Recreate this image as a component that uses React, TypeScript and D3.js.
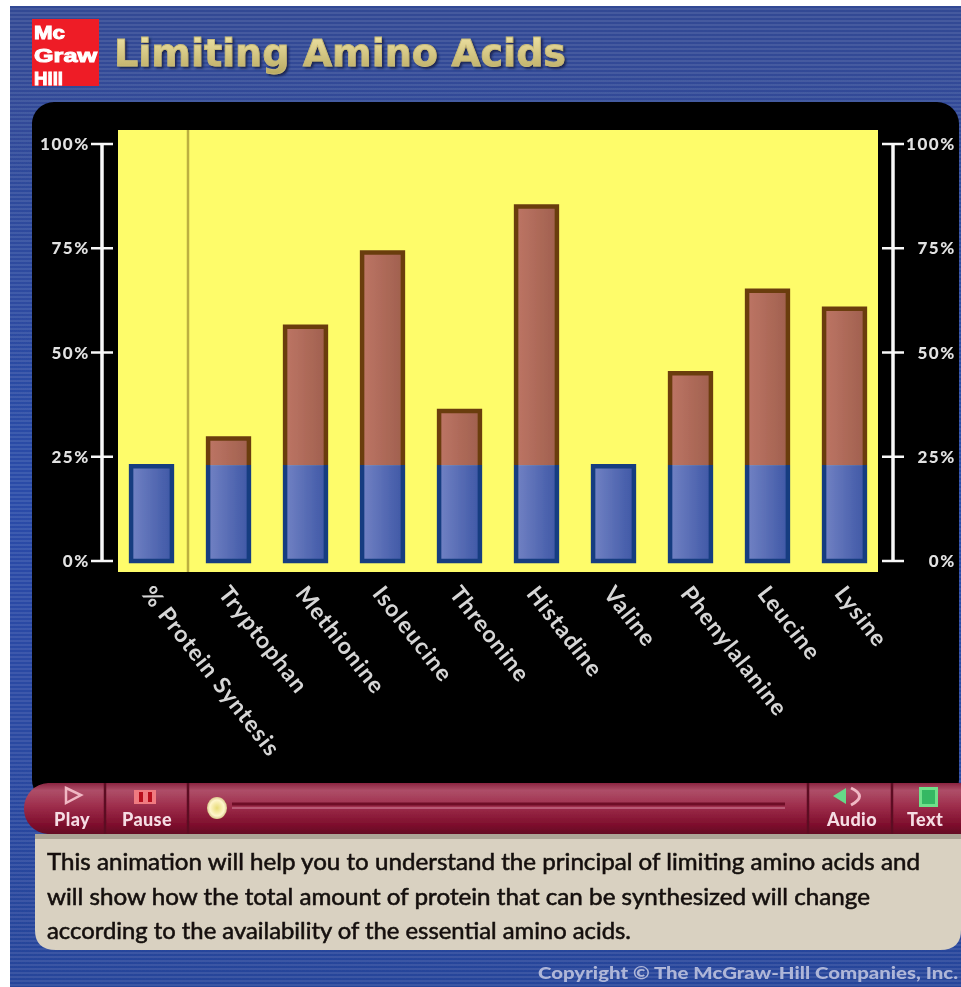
import React from "react";
import * as d3 from "d3";

const categories = ["% Protein Syntesis", "Tryptophan", "Methionine", "Isoleucine", "Threonine", "Histadine", "Valine", "Phenylalanine", "Leucine", "Lysine"];
const totalValues = [22.7, 29.4, 56.2, 74, 36, 85, 22.7, 45, 64.8, 60.5];
const baseValues = [22.7, 23, 23, 23, 23, 23, 22.7, 23, 23, 23];
const tickValues = [0, 25, 50, 75, 100];
const bodyLines = [
  "This animation will help you to understand the principal of limiting amino acids and",
  "will show how the total amount of protein that can be synthesized will change",
  "according to the availability of the essential amino acids.",
];

const W = 961, H = 987;
const y = d3.scaleLinear().domain([0, 100]).range([561, 144]);
const x = d3.scaleBand<string>().domain(categories).range([108, 888]).paddingInner(0.47).paddingOuter(0.3);
const ui = "Lato, 'Open Sans', sans-serif";

function Ticks({ axisX, side }: { axisX: number; side: "left" | "right" }) {
  return (
    <g>
      <line x1={axisX} x2={axisX} y1={y(100)} y2={y(0)} stroke="#f8f8f8" strokeWidth={3.5} />
      {tickValues.map((t) => (
        <g key={t}>
          <line x1={axisX - 11} x2={axisX + 11} y1={y(t)} y2={y(t)} stroke="#f8f8f8" strokeWidth={2.5} />
          <text
            x={side === "left" ? 90 : 956}
            y={y(t) + 6}
            textAnchor="end"
            fill="#e2e2e2"
            fontFamily={ui}
            fontWeight={900}
            fontSize={17}
            letterSpacing={1.6}
          >{t}%</text>
        </g>
      ))}
    </g>
  );
}

function Bar({ c, total, base }: { c: string; total: number; base: number }) {
  const bw = x.bandwidth();
  const l = x(c)!;
  const r = l + bw;
  const stacked = total > base;
  const blueEdge = d3.path();
  blueEdge.moveTo(l, y(base));
  blueEdge.lineTo(l, y(0));
  blueEdge.lineTo(r, y(0));
  blueEdge.lineTo(r, y(base));
  if (!stacked) blueEdge.closePath();
  const brownEdge = d3.path();
  brownEdge.moveTo(l, y(base));
  brownEdge.lineTo(l, y(total));
  brownEdge.lineTo(r, y(total));
  brownEdge.lineTo(r, y(base));
  return (
    <g>
      {stacked && (
        <g>
          <rect x={l} y={y(total)} width={bw} height={y(base) - y(total)} fill="url(#brownBar)" />
          <path d={brownEdge.toString()} fill="none" stroke="#6a3c10" strokeWidth={4.5} />
        </g>
      )}
      <rect x={l} y={y(base)} width={bw} height={y(0) - y(base)} fill="url(#blueBar)" />
      <path d={blueEdge.toString()} fill="none" stroke="#163c80" strokeWidth={4.5} />
    </g>
  );
}

export default function App() {
  const bw = x.bandwidth();
  return (
    <div style={{ position: "absolute", left: 0, top: 0, width: W, height: H, background: "#fff" }}>
      <svg width={W} height={H} style={{ display: "block" }}>
        <defs>
          <linearGradient id="frame" x1="0" y1="0" x2="0" y2="1">
            <stop offset="0" stopColor="#324a94" />
            <stop offset="0.5" stopColor="#2a4ba8" />
            <stop offset="1" stopColor="#28459a" />
          </linearGradient>
          <pattern id="stripes" width="4" height="4" patternUnits="userSpaceOnUse">
            <rect width="4" height="2" fill="#ffffff" opacity="0.09" />
          </pattern>
          <linearGradient id="blueBar" x1="0" x2="1" y1="0" y2="0">
            <stop offset="0" stopColor="#7282c4" />
            <stop offset="1" stopColor="#3f58a6" />
          </linearGradient>
          <linearGradient id="brownBar" x1="0" x2="1" y1="0" y2="0">
            <stop offset="0" stopColor="#bd7565" />
            <stop offset="1" stopColor="#a0604e" />
          </linearGradient>
          <linearGradient id="bar" x1="0" x2="0" y1="0" y2="1">
            <stop offset="0" stopColor="#8a2440" />
            <stop offset="0.15" stopColor="#ae4e68" />
            <stop offset="0.45" stopColor="#9e2e4c" />
            <stop offset="0.8" stopColor="#80102e" />
            <stop offset="1" stopColor="#640c24" />
          </linearGradient>
          <linearGradient id="title" x1="0" x2="0" y1="0" y2="1">
            <stop offset="0" stopColor="#f2e6a8" />
            <stop offset="1" stopColor="#b8a860" />
          </linearGradient>
          <radialGradient id="knob" cx="0.5" cy="0.5" r="0.6">
            <stop offset="0" stopColor="#e8dc78" />
            <stop offset="0.6" stopColor="#fff6cc" />
            <stop offset="1" stopColor="#c0aa60" />
          </radialGradient>
          <filter id="soft" x="-5%" y="-5%" width="110%" height="110%">
            <feGaussianBlur stdDeviation="0.75" />
          </filter>
          <filter id="textSoft" x="-10%" y="-10%" width="120%" height="120%">
            <feGaussianBlur stdDeviation="0.4" />
          </filter>
          <filter id="titleShadow" x="-5%" y="-20%" width="110%" height="140%">
            <feDropShadow dx="2" dy="2" stdDeviation="1" floodColor="#1a2754" />
          </filter>
        </defs>

        <g filter="url(#soft)">
          <rect x={10} y={6} width={951} height={981} fill="url(#frame)" />
          <rect x={10} y={6} width={951} height={981} fill="url(#stripes)" />

          <rect x={32} y={19} width={67} height={67} fill="#ee1c25" />
          <g fill="#fff" fontFamily="'Liberation Sans', sans-serif" fontWeight={700} fontSize={19} stroke="#fff" strokeWidth={1}>
            <text x={34} y={39} textLength={31} lengthAdjust="spacingAndGlyphs">Mc</text>
            <text x={34} y={62} textLength={63} lengthAdjust="spacingAndGlyphs">Graw</text>
            <text x={34} y={85} textLength={29} lengthAdjust="spacingAndGlyphs">Hill</text>
          </g>

          <text
            x={114}
            y={66}
            fill="url(#title)"
            stroke="#c9bb78"
            strokeWidth={0.8}
            filter="url(#titleShadow)"
            fontFamily="'DejaVu Sans', sans-serif"
            fontWeight={700}
            fontSize={37}
            textLength={452}
            lengthAdjust="spacingAndGlyphs"
          >Limiting Amino Acids</text>

          <rect x={32} y={102} width={927} height={700} rx={22} fill="#000" />

          <rect x={118} y={130} width={760} height={442} fill="#fefc6a" />
          <line x1={188} x2={188} y1={130} y2={572} stroke="#bcb040" strokeWidth={2.5} />

          <Ticks axisX={102} side="left" />
          <Ticks axisX={893} side="right" />

          {categories.map((c, i) => (
            <Bar key={c} c={c} total={totalValues[i]} base={baseValues[i]} />
          ))}

          <g filter="url(#textSoft)">
            {categories.map((c) => (
              <text
                key={c}
                transform={`translate(${x(c)! + bw / 2 - 11},${594}) rotate(52)`}
                fill="#d6d6d6"
                fontFamily={ui}
                fontWeight={700}
                fontSize={23}
                letterSpacing={1.1}
              >{c}</text>
            ))}
          </g>

          <path d="M48 783 H961 V834 H48 A25 25 0 0 1 24 808 A25 25 0 0 1 48 783 Z" fill="url(#bar)" />
          <path d="M35 834 H961 V930 Q961 950 940 950 H56 Q35 950 35 930 Z" fill="#d9d1c1" />
          <rect x={35} y={834} width={926} height={5} fill="#8e887c" opacity={0.6} />
          <line x1={232} x2={785} y1={804} y2={804} stroke="#6e0c26" strokeWidth={3} />
          <line x1={232} x2={785} y1={808} y2={808} stroke="#b85a74" strokeWidth={2} />
          {[105, 188, 808, 892].map((px) => (
            <line key={px} x1={px} x2={px} y1={783} y2={834} stroke="#5c0a20" strokeWidth={2.5} />
          ))}
          <ellipse cx={217} cy={808} rx={10} ry={11} fill="url(#knob)" />

          <path d="M66 788 L81 795 L66 803 Z" fill="none" stroke="#f0b8c4" strokeWidth={2.5} />
          <rect x={134} y={790} width={22} height={14} fill="#f07a80" />
          <rect x={139} y={792} width={4} height={10} fill="#b8101e" />
          <rect x={148} y={792} width={4} height={10} fill="#b8101e" />
          <path d="M833 796 L846 788 V804 Z" fill="#66d888" />
          <path d="M851 788 Q868 796 851 805" fill="none" stroke="#f0b8c4" strokeWidth={3} />
          <rect x={919} y={787} width={19} height={20} fill="#6fe08a" />
          <rect x={922} y={790} width={13} height={14} fill="#36b864" />

          <g fill="#f6dde4" fontFamily={ui} fontWeight={900} fontSize={18} textAnchor="middle" letterSpacing={0.4}>
            <text x={72} y={826}>Play</text>
            <text x={147} y={826}>Pause</text>
            <text x={852} y={826}>Audio</text>
            <text x={925} y={826}>Text</text>
          </g>

          <g fill="#14110e" fontFamily={ui} fontSize={23} stroke="#14110e" strokeWidth={0.55}>
            {bodyLines.map((l, i) => (
              <text key={i} x={47} y={[870, 905, 939][i]} textLength={[873, 823, 584][i]} lengthAdjust="spacingAndGlyphs">{l}</text>
            ))}
          </g>

          <text x={538} y={979} fill="#aeb6d8" fontFamily={ui} fontWeight={900} fontSize={16} textLength={420} lengthAdjust="spacingAndGlyphs">Copyright © The McGraw-Hill Companies, Inc.</text>
        </g>
      </svg>
    </div>
  );
}
